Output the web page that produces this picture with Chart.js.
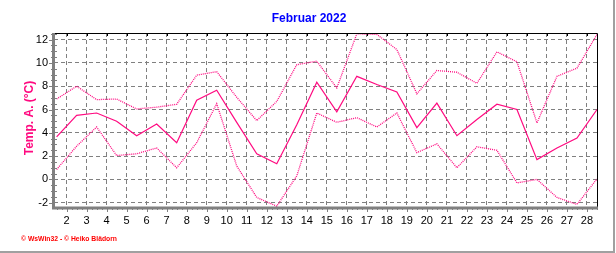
<!DOCTYPE html>
<html>
<head>
<meta charset="utf-8">
<script src="https://cdn.jsdelivr.net/npm/chart.js@4"></script>
<style>
  html, body { margin: 0; padding: 0; background: #fff; }
</style>
</head>
<body>
<canvas id="tempChart" width="616" height="253"></canvas>
<script>
// Februar 2022, daily air temperature (max / mean / min)
const days = [1, 2, 3, 4, 5, 6, 7, 8, 9, 10, 11, 12, 13, 14, 15, 16, 17, 18, 19, 20, 21, 22, 23, 24, 25, 26, 27, 28];
const tempMax = [6.9, 8.0, 6.85, 6.9, 6.05, 6.2, 6.45, 8.95, 9.25, 7.05, 5.05, 6.7, 9.85, 10.15, 7.85, 12.5, 12.45, 11.15, 7.35, 9.35, 9.2, 8.25, 10.95, 10.1, 4.85, 8.85, 9.55, 12.45];
const tempMean = [3.65, 5.5, 5.7, 5.0, 3.75, 4.75, 3.15, 6.8, 7.65, 4.9, 2.2, 1.35, 4.7, 8.35, 5.8, 8.85, 8.15, 7.5, 4.45, 6.55, 3.75, 5.15, 6.45, 6.0, 1.7, 2.7, 3.55, 6.0];
const tempMin = [0.85, 2.85, 4.5, 2.05, 2.2, 2.7, 1.0, 3.15, 6.5, 1.15, -1.55, -2.3, 0.3, 5.7, 4.9, 5.3, 4.5, 5.7, 2.3, 3.05, 1.0, 2.8, 2.5, -0.3, 0.0, -1.55, -2.15, 0.05];

const dayTicks = [2, 3, 4, 5, 6, 7, 8, 9, 10, 11, 12, 13, 14, 15, 16, 17, 18, 19, 20, 21, 22, 23, 24, 25, 26, 27, 28];
const tempTicks = [-2, 0, 2, 4, 6, 8, 10, 12];

const lineColor = '#ff0a80';
const gridColor = '#808080';

// values are daily, drawn at noon of each day
const toPoints = vals => vals.map((v, i) => ({ x: days[i] + 0.5, y: v }));

const frame = {
  id: 'frame',
  afterDraw(chart) {
    const { ctx, chartArea: a, scales: { x, y } } = chart;
    ctx.save();

    // tick marks
    ctx.strokeStyle = gridColor;
    ctx.lineWidth = 1;
    ctx.beginPath();
    for (let v = -2; v <= 12.5; v += 0.5) {
      const py = Math.round(y.getPixelForValue(v)) + 0.5;
      const major = v % 2 === 0;
      ctx.moveTo(a.left - (major ? 5 : 3), py);
      ctx.lineTo(a.left + (major ? 0 : 3), py);
    }
    for (let v = 1.5; v <= 28.5; v += 0.25) {
      const px = Math.round(x.getPixelForValue(v)) + 0.5;
      const major = Number.isInteger(v);
      ctx.moveTo(px, a.bottom);
      ctx.lineTo(px, a.bottom + (major ? 5 : 3));
    }
    ctx.stroke();

    ctx.strokeStyle = '#000';
    ctx.beginPath();
    dayTicks.forEach(d => {
      const px = Math.round(x.getPixelForValue(d)) + 0.5;
      ctx.moveTo(px, a.top);
      ctx.lineTo(px, a.top + 3);
    });
    ctx.stroke();

    // plot frame: black top/right, grey left/bottom
    ctx.beginPath();
    ctx.moveTo(a.left, a.top + 0.5);
    ctx.lineTo(a.right + 0.5, a.top + 0.5);
    ctx.lineTo(a.right + 0.5, a.bottom);
    ctx.stroke();
    ctx.strokeStyle = gridColor;
    ctx.lineWidth = 3;
    ctx.beginPath();
    ctx.moveTo(a.left - 0.5, a.top);
    ctx.lineTo(a.left - 0.5, a.bottom + 1);
    ctx.lineTo(a.right + 1, a.bottom + 1);
    ctx.stroke();

    // picture border
    ctx.strokeStyle = '#a0a0a0';
    ctx.lineWidth = 2;
    ctx.beginPath();
    ctx.moveTo(614, 0);
    ctx.lineTo(614, 252);
    ctx.lineTo(0, 252);
    ctx.stroke();

    // texts
    ctx.textAlign = 'center';
    ctx.textBaseline = 'middle';
    ctx.fillStyle = '#0000ff';
    ctx.font = 'bold 12px "Liberation Sans", Arial, sans-serif';
    ctx.fillText('Februar 2022', 309, 19);

    ctx.save();
    ctx.translate(30, 118);
    ctx.rotate(-Math.PI / 2);
    ctx.fillStyle = lineColor;
    ctx.fillText('Temp. A. (°C)', 0, 0);
    ctx.restore();

    ctx.textAlign = 'left';
    ctx.fillStyle = '#ff0000';
    ctx.font = 'bold 7px "Liberation Sans", Arial, sans-serif';
    ctx.fillText('© WsWin32 - © Heiko Blädorn', 21, 239, 96);
    ctx.restore();
  }
};

const tickFont = { family: '"Liberation Sans", Arial, sans-serif', size: 11 };

new Chart(document.getElementById('tempChart'), {
  type: 'line',
  data: {
    datasets: [
      { data: toPoints(tempMax), borderColor: lineColor, borderWidth: 1.3, borderDash: [1, 1], pointRadius: 0, tension: 0 },
      { data: toPoints(tempMean), borderColor: lineColor, borderWidth: 1.2, pointRadius: 0, tension: 0 },
      { data: toPoints(tempMin), borderColor: lineColor, borderWidth: 1.3, borderDash: [1, 1], pointRadius: 0, tension: 0 }
    ]
  },
  options: {
    responsive: false,
    animation: false,
    devicePixelRatio: 1,
    layout: { padding: { left: 0, right: 19, top: 33, bottom: 0 } },
    plugins: { legend: { display: false }, tooltip: { enabled: false }, title: { display: false } },
    scales: {
      x: {
        type: 'linear',
        min: 1.37,
        max: 28.5,
        afterBuildTicks: s => { s.ticks = dayTicks.map(v => ({ value: v })); },
        afterFit: s => { s.height = 46; },
        ticks: { font: tickFont, color: '#000', padding: 7, maxRotation: 0, autoSkip: false },
        grid: { color: gridColor, drawTicks: false },
        border: { display: false, dash: [4, 3] }
      },
      y: {
        min: -2.37,
        max: 12.57,
        afterBuildTicks: s => { s.ticks = tempTicks.map(v => ({ value: v })); },
        afterFit: s => { s.width = 54; },
        ticks: { font: tickFont, color: '#000', padding: 6 },
        grid: { color: gridColor, drawTicks: false },
        border: { display: false, dash: [4, 3] }
      }
    }
  },
  plugins: [frame]
});
</script>
</body>
</html>
